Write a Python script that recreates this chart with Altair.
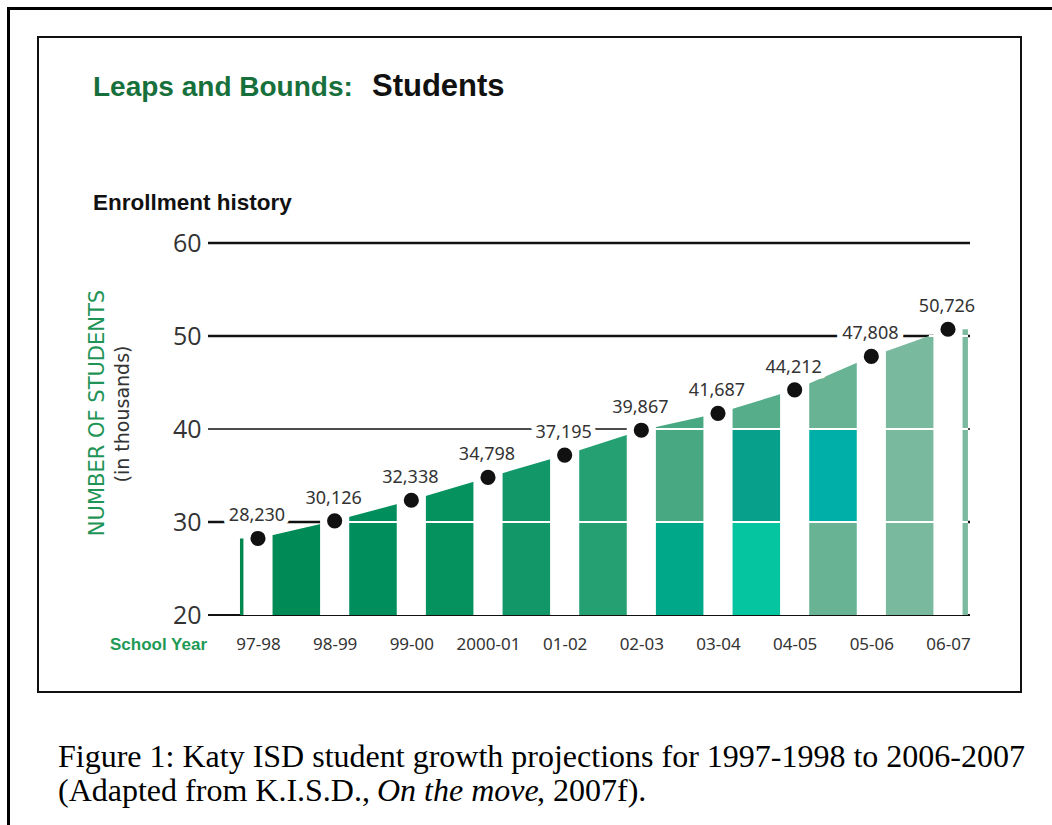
import altair as alt
import pandas as pd

# ---------------- data ----------------
YEARS = ["97-98", "98-99", "99-00", "2000-01", "01-02", "02-03", "03-04", "04-05", "05-06", "06-07"]
STUDENTS = [28230, 30126, 32338, 34798, 37195, 39867, 41687, 44212, 47808, 50726]
Y_TICKS = [20, 30, 40, 50, 60]

# colours of the area pieces: lead sliver, 9 segments between years, trailing sliver
SEG_IDS = ["lead", "s0", "s1", "s2", "s3", "s4", "s5", "s6", "s7", "s8", "trail"]
SEG_COLORS = ["#00884f", "#008a55", "#008f5c", "#06925f", "#129868", "#24a072",
              "#48a882", "#55ad8a", "#68b394", "#79b99d", "#7bba9f"]
# decorative coloured blocks: (segment index, low, high, colour)
BLOCK_SEG = [5, 6, 6, 7]
BLOCK_LO = [20, 30, 20, 30]
BLOCK_HI = [30, 40, 30, 40]
BLOCK_COLORS = ["#00a88a", "#07a08b", "#05c4a0", "#00b0a8"]

GRID_WIDTHS = [2, 2.5, 1.5, 2.5, 2.5]

# ---------------- derived tables ----------------
vals = [s / 1000 for s in STUDENTS]
LEAD, TRAIL, HALF = 0.235, 0.26, 0.19
BASE = 20

segs = []  # (id, x0, y0, x1, y1)
segs.append(("lead", -LEAD, vals[0], 0, vals[0]))
for k in range(len(vals) - 1):
    segs.append((f"s{k}", k, vals[k], k + 1, vals[k + 1]))
segs.append(("trail", len(vals) - 1, vals[-1], len(vals) - 1 + TRAIL, vals[-1]))

area_rows = []
for sid, x0, y0, x1, y1 in segs:
    area_rows.append(dict(seg=sid, x=x0, y=y0, base=BASE))
    area_rows.append(dict(seg=sid, x=x1, y=y1, base=BASE))
area_df = pd.DataFrame(area_rows)

white_rows = []
for g in Y_TICKS[1:4]:
    for sid, x0, y0, x1, y1 in segs:
        if y0 >= g and y1 >= g:
            white_rows.append(dict(x=x0, x2=x1, g=g))
        elif y0 < g <= y1:
            xs = x0 + (g - y0) / (y1 - y0) * (x1 - x0)
            white_rows.append(dict(x=xs, x2=x1, g=g))
white_df = pd.DataFrame(white_rows)

block_df = pd.DataFrame(dict(x=BLOCK_SEG, x2=[b + 1 for b in BLOCK_SEG],
                             lo=BLOCK_LO, hi=BLOCK_HI, c=BLOCK_COLORS))

bar_top = []
for i, v in enumerate(vals):
    nxt = vals[i + 1] if i + 1 < len(vals) else v
    bar_top.append(v + 0.25 * (nxt - v) + 0.1)
pts_df = pd.DataFrame(dict(i=list(range(len(vals))), y=vals, students=STUDENTS,
                           year=YEARS, xl=[i - HALF for i in range(len(vals))],
                           xr=[i + HALF for i in range(len(vals))], top=bar_top, base=BASE))

grid_df = pd.DataFrame(dict(g=Y_TICKS, w=GRID_WIDTHS))
ONE = pd.DataFrame({"a": [0]})

# ---------------- scales ----------------
XS = alt.Scale(domain=[-0.652, 9.287], nice=False, zero=False)
YS = alt.Scale(domain=[20, 60], nice=False, zero=False)
label_expr = "[" + ",".join(f"'{y}'" for y in YEARS) + "][datum.value]"

x_axis = alt.Axis(values=list(range(len(YEARS))), labelExpr=label_expr, title=None,
                  domain=False, ticks=False, grid=False, labelPadding=21,
                  labelFontSize=17, labelColor="#333", labelFont="Noto Sans")
y_axis = alt.Axis(values=Y_TICKS, title=None, domain=False, ticks=False, grid=False,
                  labelPadding=7, labelFontSize=25, labelColor="#333", labelFont="Open Sans")

# ---------------- layers ----------------
black_grid = alt.Chart(grid_df).mark_rule(color="#111").encode(
    x=alt.value(0), x2=alt.value(762),
    y=alt.Y("g:Q", scale=YS, axis=y_axis),
    strokeWidth=alt.StrokeWidth("w:Q", scale=None, legend=None),
)

area = alt.Chart(area_df).mark_area(interpolate="linear", opacity=1).encode(
    x=alt.X("x:Q", scale=XS, axis=x_axis),
    y=alt.Y("y:Q", scale=YS),
    y2="base:Q",
    color=alt.Color("seg:N", scale=alt.Scale(domain=SEG_IDS, range=SEG_COLORS), legend=None),
    detail="seg:N",
)

blocks = alt.Chart(block_df).mark_rect().encode(
    x=alt.X("x:Q", scale=XS), x2="x2:Q",
    y=alt.Y("lo:Q", scale=YS), y2="hi:Q",
    fill=alt.Fill("c:N", scale=None, legend=None),
)

white_grid = alt.Chart(white_df).mark_rule(color="white", strokeWidth=2).encode(
    x=alt.X("x:Q", scale=XS), x2="x2:Q", y=alt.Y("g:Q", scale=YS),
)

bars = alt.Chart(pts_df).mark_rect(color="white").encode(
    x=alt.X("xl:Q", scale=XS), x2="xr:Q",
    y=alt.Y("base:Q", scale=YS), y2="top:Q",
)

halo = alt.Chart(pts_df).mark_text(dy=-22, dx=-1, fontSize=18, font="Noto Sans",
                                   color="white", stroke="white", strokeWidth=11,
                                   strokeJoin="round").encode(
    x=alt.X("i:Q", scale=XS), y=alt.Y("y:Q", scale=YS),
    text=alt.Text("students:Q", format=","),
)
labels = alt.Chart(pts_df).mark_text(dy=-22, dx=-1, fontSize=18, font="Noto Sans",
                                     color="#333").encode(
    x=alt.X("i:Q", scale=XS), y=alt.Y("y:Q", scale=YS),
    text=alt.Text("students:Q", format=","),
)
dots = alt.Chart(pts_df).mark_circle(size=230, color="#111", opacity=1).encode(
    x=alt.X("i:Q", scale=XS), y=alt.Y("y:Q", scale=YS),
)


def txt(text, x, y, **kw):
    return alt.Chart(ONE).mark_text(text=text, **kw).encode(x=alt.value(x), y=alt.value(y))


HEAD = "Liberation Sans"
SERIF = "Liberation Serif"
decor = [
    txt("Leaps and Bounds:", -115, -155, align="left", baseline="middle", font=HEAD,
        fontWeight="bold", fontSize=28, color="#17703c"),
    txt("Students", 164, -156, align="left", baseline="middle", font=HEAD,
        fontWeight="bold", fontSize=31, color="#111"),
    txt("Enrollment history", -115, -40, align="left", baseline="middle", font=HEAD,
        fontWeight="bold", fontSize=22.5, color="#111"),
    txt("NUMBER OF STUDENTS", -110, 170, align="center", baseline="middle", angle=270,
        font="DejaVu Sans", fontSize=21, color="#1f9457"),
    txt("(in thousands)", -85, 171, align="center", baseline="middle", angle=270,
        font="DejaVu Sans", fontSize=19, color="#333"),
    txt("School Year", -1, 402, align="right", baseline="middle", font=HEAD,
        fontWeight="bold", fontSize=17, color="#1e9a55"),
    txt("Figure 1: Katy ISD student growth projections for 1997-1998 to 2006-2007",
        -150, 514, align="left", baseline="middle", font=SERIF, fontSize=32, color="#000"),
    txt("(Adapted from K.I.S.D., ", -150, 548, align="left", baseline="middle",
        font=SERIF, fontSize=32, color="#000"),
    txt("On the move", 169, 548, align="left", baseline="middle", font=SERIF,
        fontStyle="italic", fontSize=32, color="#000"),
    txt(", 2007f).", 329, 548, align="left", baseline="middle", font=SERIF,
        fontSize=32, color="#000"),
]

frames = [
    alt.Chart(ONE).mark_rect(fillOpacity=0, stroke="#111", strokeWidth=2).encode(
        x=alt.value(-170), x2=alt.value(813), y=alt.value(-206), y2=alt.value(449)),
    alt.Chart(ONE).mark_rule(color="#000", strokeWidth=3).encode(
        x=alt.value(-201), x2=alt.value(850), y=alt.value(-234.5)),
    alt.Chart(ONE).mark_rule(color="#000", strokeWidth=3).encode(
        x=alt.value(-199.5), y=alt.value(-236), y2=alt.value(600)),
]

chart = alt.layer(
    black_grid, area, blocks, white_grid, bars, halo, labels, dots, *decor, *frames
).properties(
    width=762, height=372, autosize="none",
    padding={"left": 208, "top": 243, "right": 82, "bottom": 210},
    background="white",
).configure_view(stroke=None)

chart.save("out.html", embed_options={"renderer": "svg", "actions": False})
